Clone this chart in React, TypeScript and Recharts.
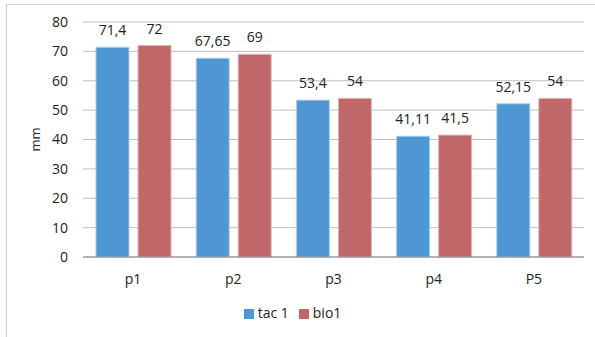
import React from 'react'
import { BarChart, Bar, XAxis, YAxis, CartesianGrid, Legend, LabelList } from 'recharts'

const categories = ['p1', 'p2', 'p3', 'p4', 'P5']
const tac1 = [71.4, 67.65, 53.4, 41.11, 52.15]
const bio1 = [72, 69, 54, 41.5, 54]
const yTicks = [0, 10, 20, 30, 40, 50, 60, 70, 80]

const data = categories.map((name, i) => ({ name, tac1: tac1[i], bio1: bio1[i] }))

const font = '"Open Sans", "Noto Sans", sans-serif'
const fmt = (v: any) => String(v).replace('.', ',')

export default function App() {
  return (
    <div style={{ position: 'absolute', left: 0, top: 0, width: 595, height: 337, background: '#fff', fontFamily: font }}>
      <div
        style={{
          position: 'absolute',
          left: 6,
          top: 4,
          width: 595,
          height: 340,
          borderTop: '1px solid #d0d0d0',
          borderLeft: '1px solid #d0d0d0',
        }}
      />
      <div style={{ position: 'absolute', left: 0, top: 0 }}>
        <BarChart
          width={595}
          height={337}
          data={data}
          margin={{ top: 22, right: 11, left: 0, bottom: 26 }}
          barGap={9}
          barCategoryGap={0}
        >
          <CartesianGrid vertical={false} stroke="#bfbfbf" strokeWidth={1} />
          <XAxis
            dataKey="name"
            height={30}
            tickLine={false}
            tickSize={0}
            tickMargin={17}
            axisLine={{ stroke: '#888', strokeWidth: 1 }}
            tick={{ fill: '#222', fontSize: 14, fontFamily: font }}
          />
          <YAxis
            width={83}
            domain={[0, 80]}
            ticks={yTicks}
            interval={0}
            tickLine={false}
            axisLine={false}
            tickSize={0}
            tickMargin={15}
            tick={{ fill: '#222', fontSize: 14, fontFamily: font }}
            label={{
              value: 'mm',
              angle: -90,
              position: 'insideLeft',
              dx: 30,
              dy: 0,
              style: { fill: '#222', fontSize: 13, fontFamily: font, textAnchor: 'middle' },
            }}
          />
          <Legend
            verticalAlign="bottom"
            align="center"
            iconType="square"
            iconSize={10}
            height={24}
            itemSorter={null}
            wrapperStyle={{ fontSize: 14, fontFamily: font, top: 303, left: 0, width: 595 }}
            formatter={(value: any) => <span style={{ color: '#222' }}>{value}</span>}
          />
          <Bar dataKey="tac1" name="tac 1" fill="#4f97d3" stroke="#a9cdee" strokeWidth={1} barSize={33} isAnimationActive={false}>
            <LabelList dataKey="tac1" position="top" offset={12} formatter={fmt} style={{ fill: '#222', fontSize: 14, fontFamily: font }} />
          </Bar>
          <Bar dataKey="bio1" name="bio1" fill="#c0676a" stroke="#e4b3b4" strokeWidth={1} barSize={33} isAnimationActive={false}>
            <LabelList dataKey="bio1" position="top" offset={12} formatter={fmt} style={{ fill: '#222', fontSize: 14, fontFamily: font }} />
          </Bar>
        </BarChart>
      </div>
    </div>
  )
}
